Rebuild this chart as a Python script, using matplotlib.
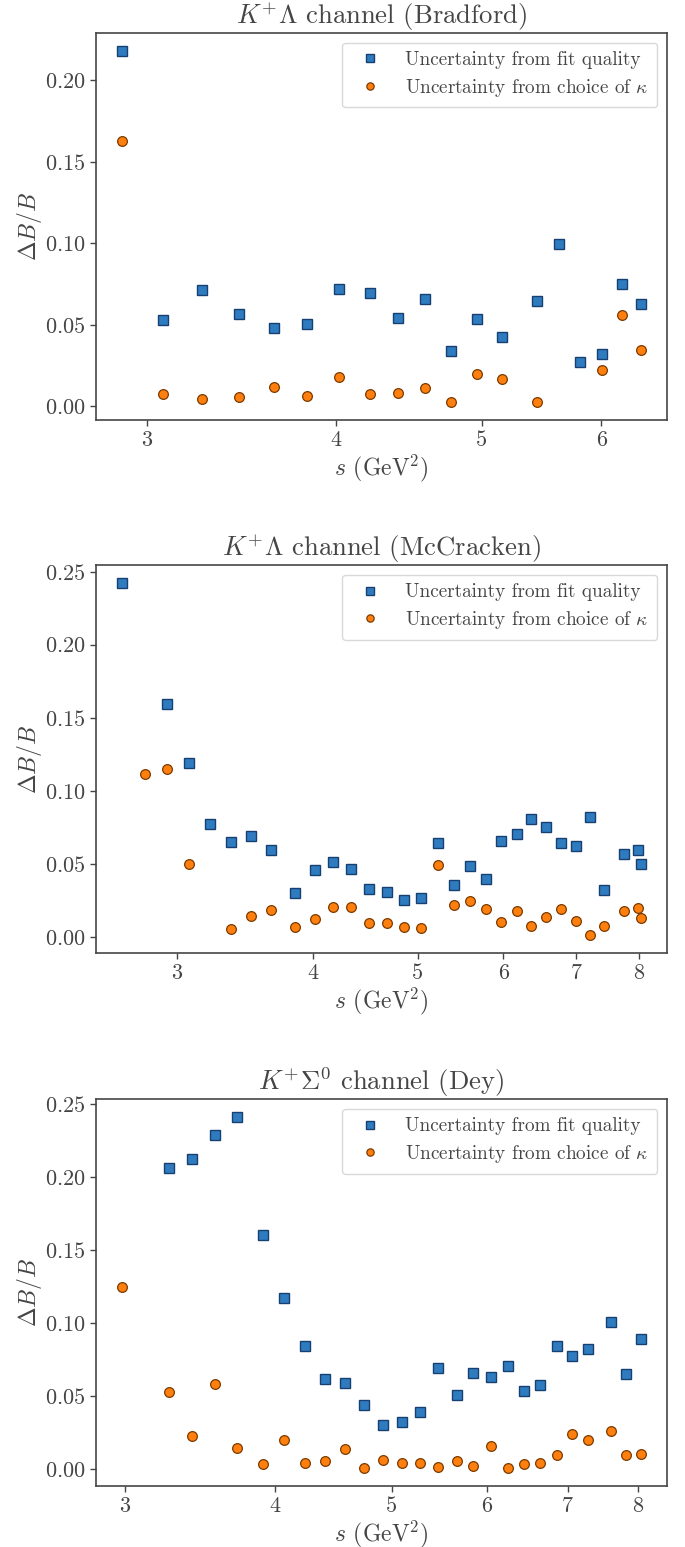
import numpy as np
import matplotlib
matplotlib.use("Agg")
import matplotlib.pyplot as plt
from matplotlib.ticker import NullLocator

plt.rcParams.update({
    "font.family": "serif",
    "font.serif": ["cmr10"],
    "mathtext.fontset": "cm",
    "axes.formatter.use_mathtext": True,
    "text.color": "0.27",
    "axes.labelcolor": "0.27",
    "xtick.color": "0.27",
    "ytick.color": "0.27",
    "axes.edgecolor": "0.27",
})

nan = np.nan

# ---- Panel 1: K+Lambda (Bradford) ----
s_brad = [2.887, 3.072, 3.263, 3.454, 3.639, 3.831, 4.019, 4.213, 4.400, 4.588,
          4.774, 4.963, 5.155, 5.443, 5.626, 5.813, 6.004, 6.193, 6.376]
fit_brad = [0.218, 0.0529, 0.0715, 0.0562, 0.0482, 0.0504, 0.0717, 0.0694, 0.0543, 0.0658,
            0.0339, 0.0537, 0.0427, 0.0645, 0.0997, 0.0271, 0.0317, 0.0749, 0.0627]
kap_brad = [0.1624, 0.0075, 0.0043, 0.0059, 0.0118, 0.0063, 0.0180, 0.0075, 0.0078, 0.0110,
            0.0023, 0.0196, 0.0167, 0.0025, nan, nan, 0.0219, 0.0558, 0.0347]
ticks_brad = [3, 4, 5, 6]

# ---- Panel 2: K+Lambda (McCracken) ----
s_mcc = [2.668, 2.802, 2.937, 3.075, 3.217, 3.364, 3.511, 3.661, 3.857, 4.018,
         4.181, 4.343, 4.512, 4.681, 4.855, 5.036, 5.221, 5.400, 5.589, 5.784,
         5.975, 6.170, 6.368, 6.574, 6.780, 6.995, 7.206, 7.428, 7.761, 7.982, 8.039]
fit_mcc = [0.2425, nan, 0.1592, 0.1188, 0.0770, 0.0647, 0.0688, 0.0592, 0.0299, 0.0457,
           0.0514, 0.0462, 0.0329, 0.0304, 0.0251, 0.0265, 0.0640, 0.0352, 0.0484, 0.0393,
           0.0653, 0.0703, 0.0808, 0.0749, 0.0644, 0.0621, 0.0820, 0.0318, 0.0564, 0.0594, 0.0500]
kap_mcc = [nan, 0.1116, 0.1147, 0.0498, nan, 0.0051, 0.0142, 0.0183, 0.0064, 0.0123,
           0.0205, 0.0205, 0.0092, 0.0092, 0.0066, 0.0060, 0.0491, 0.0217, 0.0245, 0.0192,
           0.0099, 0.0178, 0.0071, 0.0137, 0.0192, 0.0110, 0.0010, 0.0075, 0.0176, 0.0197, 0.0126]
ticks_mcc = [3, 4, 5, 6, 7, 8]

# ---- Panel 3: K+Sigma0 (Dey) ----
s_dey = [2.985, 3.269, 3.415, 3.564, 3.717, 3.911, 4.070, 4.236, 4.401, 4.570,
         4.741, 4.919, 5.098, 5.279, 5.466, 5.665, 5.845, 6.044, 6.239, 6.440,
         6.644, 6.854, 7.061, 7.280, 7.602, 7.828, 8.054]
fit_dey = [nan, 0.2064, 0.2125, 0.2288, 0.2413, 0.1603, 0.1171, 0.0842, 0.0616, 0.0593,
           0.0440, 0.0305, 0.0324, 0.0390, 0.0696, 0.0509, 0.0662, 0.0632, 0.0708, 0.0538,
           0.0575, 0.0842, 0.0776, 0.0824, 0.1009, 0.0653, 0.0890]
kap_dey = [0.1249, 0.0527, 0.0230, 0.0586, 0.0148, 0.0034, 0.0199, 0.0041, 0.0057, 0.0137,
           0.0009, 0.0062, 0.0045, 0.0041, 0.0016, 0.0055, 0.0025, 0.0158, 0.0007, 0.0034,
           0.0043, 0.0096, 0.0240, 0.0199, 0.0260, 0.0100, 0.0105]
ticks_dey = [3, 4, 5, 6, 7, 8]

titles = [r"$K^{+}\Lambda$ channel (Bradford)",
          r"$K^{+}\Lambda$ channel (McCracken)",
          r"$K^{+}\Sigma^{0}$ channel (Dey)"]
labels = ["Uncertainty from fit quality", r"Uncertainty from choice of $\kappa$"]

panels = [(s_brad, fit_brad, kap_brad, ticks_brad),
          (s_mcc, fit_mcc, kap_mcc, ticks_mcc),
          (s_dey, fit_dey, kap_dey, ticks_dey)]

fig = plt.figure(figsize=(6.85, 15.47), dpi=100)
W, H = 685, 1547
boxes = [(33, 420), (565, 953), (1099, 1486)]
left, right = 96, 667

for (top, bot), (s, fit, kap, ticks), title in zip(boxes, panels, titles):
    ax = fig.add_axes([left / W, 1 - bot / H, (right - left) / W, (bot - top) / H])
    ax.plot(s, fit, ls="none", marker="s", ms=7, mfc="#2f7bbf", mec="#173f70",
            mew=1.0, label=labels[0])
    ax.plot(s, kap, ls="none", marker="o", ms=7, mfc="#ff7f0e", mec="#7a3b00",
            mew=0.9, label=labels[1])
    ax.set_xscale("log")
    ax.set_xticks(ticks)
    ax.set_xticklabels([str(t) for t in ticks])
    ax.xaxis.set_minor_locator(NullLocator())
    ax.tick_params(axis="both", which="major", labelsize=16, length=4, width=1,
                   direction="out")
    ax.set_title(title, fontsize=19.2, pad=3)
    ax.set_xlabel(r"$s$ (GeV$^2$)", fontsize=17, labelpad=2)
    ax.set_ylabel(r"$\Delta B/B$", fontsize=17, labelpad=1)
    for sp in ax.spines.values():
        sp.set_linewidth(1.2)
    leg = ax.legend(loc="upper right", fontsize=13.8, frameon=True,
                    handletextpad=0.86, borderpad=0.45, labelspacing=0.4,
                    borderaxespad=0.5, markerscale=0.75, framealpha=1)
    leg.get_frame().set_edgecolor("0.85")

fig.savefig("out.png", dpi=100)
